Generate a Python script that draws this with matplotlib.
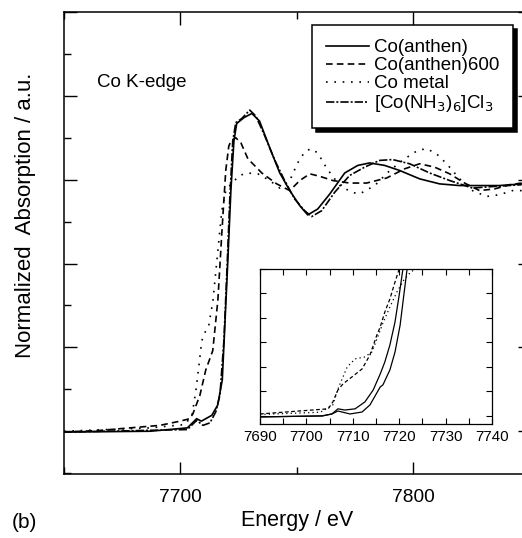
import numpy as np
import matplotlib.pyplot as plt
from matplotlib.ticker import MultipleLocator

plt.rcParams['font.family'] = ['Liberation Sans', 'DejaVu Sans']

# Main panel data (energy in eV, absorption in a.u. = major tick units)
e_anthen = [7650, 7687, 7703, 7707, 7709, 7713.5, 7716, 7718, 7719, 7720.4, 7721.7,
            7723, 7724.2, 7727.3, 7730.7, 7734, 7738.4, 7742.7, 7747, 7751.3, 7754.7,
            7759, 7764.2, 7770.6, 7776.2, 7781.3, 7787.8, 7794.2, 7802.8, 7811.4, 7820,
            7828.5, 7837, 7847]
mu_anthen = [-0.01, 0.0, 0.04, 0.15, 0.12, 0.19, 0.31, 0.61, 1.20, 2.04, 2.87,
             3.46, 3.67, 3.74, 3.79, 3.70, 3.38, 3.08, 2.87, 2.69, 2.58,
             2.65, 2.83, 3.08, 3.17, 3.20, 3.17, 3.11, 3.01, 2.95, 2.93,
             2.93, 2.93, 2.95]

e_600 = [7650, 7665.5, 7678.3, 7691.2, 7699.8, 7704.1, 7705.4, 7708.4, 7710.9, 7713.9,
         7716.1, 7717.8, 7719.5, 7720.8, 7721.7, 7723.8, 7726, 7729, 7735, 7741.4,
         7747, 7751.3, 7755.6, 7759.9, 7765.5, 7772.7, 7780, 7788.6, 7796.4, 7802.8,
         7809.2, 7815.7, 7822.1, 7828.5, 7835, 7841.4, 7846.6]
mu_600 = [-0.01, 0.01, 0.04, 0.07, 0.12, 0.15, 0.21, 0.43, 0.73, 0.96,
          1.56, 2.36, 3.11, 3.40, 3.46, 3.50, 3.44, 3.25, 3.08, 2.95,
          2.87, 2.99, 3.07, 3.04, 2.99, 2.96, 2.96, 3.02, 3.13, 3.19,
          3.15, 3.07, 2.96, 2.87, 2.89, 2.94, 2.96]

e_metal = [7650, 7687, 7702, 7705, 7706.7, 7708, 7709.2, 7710.9, 7712.2, 7714, 7716.1,
           7717.8, 7719.5, 7722.1, 7725.5, 7728.5, 7733.3, 7738.4, 7742.7, 7747, 7750.4,
           7753.4, 7756, 7759, 7763, 7768.5, 7773.6, 7777, 7783.5, 7790, 7796.4, 7802,
           7805.8, 7810, 7814.4, 7820, 7825.5, 7831.5, 7837, 7842.7, 7846.6]
mu_metal = [0.0, 0.04, 0.08, 0.19, 0.49, 0.79, 1.08, 1.20, 1.26, 1.56, 2.15,
            2.63, 2.87, 2.96, 3.05, 3.08, 3.07, 2.99, 2.90, 2.99, 3.20,
            3.33, 3.37, 3.32, 3.13, 2.93, 2.85, 2.83, 2.93, 3.11, 3.25, 3.35,
            3.37, 3.31, 3.19, 3.01, 2.87, 2.80, 2.82, 2.87, 2.87]

e_nh3 = [7650, 7703, 7707, 7709.7, 7712.7, 7715.2, 7717, 7718.7, 7720, 7721.2, 7722.5,
         7723.8, 7726.4, 7729.8, 7732.4, 7736.3, 7740.6, 7744.8, 7749.1, 7753.4, 7756.4,
         7760.7, 7766.3, 7772.7, 7779.2, 7785.6, 7791.2, 7798.5, 7807.1, 7815.7, 7825.5,
         7835, 7846.6]
mu_nh3 = [-0.01, 0.02, 0.13, 0.07, 0.10, 0.23, 0.43, 1.08, 1.92, 2.75, 3.46,
          3.68, 3.73, 3.83, 3.76, 3.52, 3.23, 2.99, 2.77, 2.63, 2.56,
          2.63, 2.85, 3.05, 3.15, 3.23, 3.24, 3.19, 3.08, 2.99, 2.90,
          2.92, 2.94]

# Inset (pre-edge region), own a.u.
ie_anthen = [7690, 7703.4, 7705.5, 7706.8, 7708.3, 7710.5, 7712.6, 7714.4, 7715.9,
             7716.9, 7718.0, 7719.1, 7720.0, 7720.8]
imu_anthen = [-0.04, 0.0, 0.08, 0.29, 0.24, 0.29, 0.57, 1.06, 1.71,
              2.20, 2.90, 3.84, 4.94, 6.0]
ie_nh3 = [7690, 7703.4, 7705.5, 7706.8, 7709.4, 7712.0, 7713.7, 7715.9, 7716.5,
          7718.0, 7719.1, 7720.2, 7721.0, 7721.7]
imu_nh3 = [-0.04, 0.0, 0.08, 0.20, 0.08, 0.16, 0.45, 1.18, 1.27,
           1.88, 2.61, 3.71, 4.94, 6.0]
ie_600 = [7690, 7704.7, 7705.7, 7706.8, 7707.9, 7709.8, 7712.0, 7713.7, 7715.2,
          7715.9, 7716.9, 7718.0, 7719.1, 7720.0]
imu_600 = [0.08, 0.29, 0.57, 1.06, 1.31, 1.59, 1.92, 2.49, 3.31,
           3.63, 4.24, 4.78, 5.47, 6.0]
ie_metal = [7690, 7703, 7705.7, 7706.8, 7707.7, 7708.8, 7710.5, 7712.6, 7714.1,
            7715.2, 7716.5, 7718.0, 7719.5, 7721.0, 7722.3, 7723.4]
imu_metal = [0.06, 0.15, 0.45, 1.10, 1.51, 2.0, 2.33, 2.41, 2.61,
             3.14, 3.80, 4.45, 5.06, 5.55, 5.84, 6.0]

labels = ['Co(anthen)', 'Co(anthen)600', 'Co metal', r'[Co(NH$_3$)$_6$]Cl$_3$']

fig = plt.figure(figsize=(5.22, 5.38), dpi=100)
ax = fig.add_axes([64 / 522, 64 / 538, 465.5 / 522, 462 / 538])

lw = 1.2
ax.plot(e_anthen, mu_anthen, color='black', lw=lw, ls='-', label=labels[0])
ax.plot(e_600, mu_600, color='black', lw=lw, dashes=(4, 2.5), label=labels[1])
ax.plot(e_metal, mu_metal, color='black', lw=lw, dashes=(1, 4), label=labels[2])
ax.plot(e_nh3, mu_nh3, color='black', lw=lw, dashes=(5, 1.2, 1.2, 1.2), label=labels[3])

ax.set_xlim(7650, 7850)
ax.set_ylim(-0.51, 5.0)
ax.xaxis.set_major_locator(MultipleLocator(100))
ax.xaxis.set_minor_locator(MultipleLocator(50))
ax.yaxis.set_major_locator(MultipleLocator(1))
ax.yaxis.set_minor_locator(MultipleLocator(0.5))
ax.tick_params(which='both', direction='in', top=True, right=True, width=1)
ax.tick_params(which='major', length=9, labelsize=13.8, pad=11)
ax.tick_params(which='minor', length=5)
ax.tick_params(axis='y', labelleft=False)
for s in ax.spines.values():
    s.set_linewidth(1.1)

ax.set_xlabel('Energy / eV', fontsize=15.5, labelpad=3)
fig.text(26 / 522, 1 - 215 / 538, 'Normalized  Absorption / a.u.', rotation=90,
         fontsize=16, ha='center', va='center')
fig.text(12 / 522, 1 - 522 / 538, '(b)', fontsize=15, ha='left', va='center')
ax.text(0.071, 0.848, 'Co K-edge', transform=ax.transAxes, fontsize=13.5,
        ha='left', va='center')

leg = ax.legend(loc='upper right', bbox_to_anchor=(0.965, 0.972), borderaxespad=0,
                fontsize=13.5, handlelength=2.3, handletextpad=0.25,
                labelspacing=0.05, borderpad=0.75, fancybox=False,
                shadow={'color': 'black', 'alpha': 1, 'ox': 3, 'oy': -3})
leg.get_frame().set_edgecolor('black')
leg.get_frame().set_linewidth(1.1)

# inset
axi = fig.add_axes([260 / 522, (538 - 424) / 538, 232 / 522, 155 / 538])
ilw = 0.9
axi.plot(ie_anthen, imu_anthen, color='black', lw=ilw)
axi.plot(ie_nh3, imu_nh3, color='black', lw=ilw)
axi.plot(ie_600, imu_600, color='black', lw=ilw, dashes=(3, 2))
axi.plot(ie_metal, imu_metal, color='black', lw=ilw, dashes=(1, 2.5))
axi.set_xlim(7690, 7740)
axi.set_ylim(-0.33, 6.0)
axi.xaxis.set_major_locator(MultipleLocator(10))
axi.xaxis.set_minor_locator(MultipleLocator(5))
axi.yaxis.set_major_locator(MultipleLocator(1))
axi.tick_params(which='both', direction='in', top=True, right=True, width=0.8)
axi.tick_params(which='major', length=4, labelsize=10.8, pad=4)
axi.tick_params(which='minor', length=4)
axi.tick_params(axis='y', labelleft=False)
for s in axi.spines.values():
    s.set_linewidth(0.9)

fig.savefig('out.png', dpi=100)
